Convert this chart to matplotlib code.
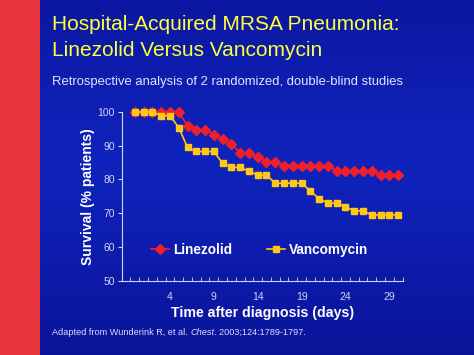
import matplotlib
matplotlib.use("Agg")
import matplotlib.pyplot as plt
import numpy as np
from matplotlib.patches import Rectangle

plt.rcParams["font.family"] = ["Liberation Sans", "DejaVu Sans"]

# survival (%) by day after diagnosis
days = list(range(0, 31))
linezolid = [100, 100, 100, 100, 100, 100, 95.9, 94.7, 94.7, 93.3,
             92.1, 90.6, 87.9, 87.9, 86.6, 85.3, 85.3, 84.1, 84.1, 84.1,
             84.1, 84.1, 84.1, 82.6, 82.6, 82.6, 82.6, 82.6, 81.3, 81.3, 81.3]
vancomycin = [100, 100, 100, 98.9, 98.9, 95.4, 89.5, 88.3, 88.3, 88.3,
              84.8, 83.6, 83.6, 82.4, 81.3, 81.3, 78.9, 78.9, 78.9, 78.9,
              76.6, 74.3, 73.0, 73.0, 71.9, 70.7, 70.7, 69.5, 69.5, 69.5, 69.5]
x_labels = [4, 9, 14, 19, 24, 29]
y_ticks = [50, 60, 70, 80, 90, 100]
title_lines = ["Hospital-Acquired MRSA Pneumonia:", "Linezolid Versus Vancomycin"]

RED = "#f0202a"
YELLOW = "#ffc814"
TICK_COL = "#d4d4f4"
W, H = 474, 355

fig = plt.figure(figsize=(W / 100, H / 100), dpi=100)
fig.patch.set_facecolor("#0c1c9e")

# background: blue gradient plus red strip on the left
bg = fig.add_axes([0, 0, 1, 1], zorder=-10)
bg.axis("off")
grad = np.linspace(0, 1, 200)
prof = 1 - np.abs(grad - 0.45) * 1.1
img = np.zeros((200, 1, 3))
img[:, 0, 0] = 0.03 + 0.03 * prof
img[:, 0, 1] = 0.04 + 0.10 * prof
img[:, 0, 2] = 0.52 + 0.22 * prof
bg.imshow(img, aspect="auto", extent=[0, 1, 0, 1])
bg.add_patch(Rectangle((0, 0), 40 / W, 1, color="#e8343c", lw=0))
bg.set_xlim(0, 1)
bg.set_ylim(0, 1)

for i, line in enumerate(title_lines):
    fig.text(52 / W, 1 - (30.5 + 26 * i) / H, line, color="#ffff3c", fontsize=15,
             ha="left", va="baseline")
fig.text(52 / W, 1 - 85 / H, "Retrospective analysis of 2 randomized, double-blind studies",
         color="#e4e4ff", fontsize=9.4, ha="left", va="baseline")

ax = fig.add_axes([121.7 / W, 1 - 280.7 / H, (402.5 - 121.7) / W, (280.7 - 112) / H])
ax.patch.set_alpha(0)
# vancomycin sits on top where the two curves overlap (first days)
ax.plot(days, linezolid, color=RED, marker="D", markersize=5.6, lw=1.2,
        label="Linezolid", clip_on=False, zorder=2)
ax.plot(days, vancomycin, color=YELLOW, marker="s", markersize=4.8, lw=1.2,
        label="Vancomycin", clip_on=False, zorder=3)

ax.set_xlim(-1.5, 30.5)
ax.set_ylim(50, 100)
ax.set_yticks(y_ticks)
ax.set_xticks(x_labels)
ax.set_xticks(np.arange(-1.5, 31, 1), minor=True)
ax.tick_params(axis="x", which="major", length=0, colors=TICK_COL, labelsize=7.5, pad=8)
ax.tick_params(axis="x", which="minor", length=3, direction="in", color=TICK_COL)
ax.tick_params(axis="y", length=3, color=TICK_COL, colors=TICK_COL, labelsize=7.5, pad=2)
for side in ("top", "right"):
    ax.spines[side].set_visible(False)
for side in ("left", "bottom"):
    ax.spines[side].set_color(TICK_COL)
    ax.spines[side].set_linewidth(0.8)

ax.set_ylabel("Survival (% patients)", color="white", fontsize=10, fontweight="bold", labelpad=2)
ax.set_xlabel("Time after diagnosis (days)", color="white", fontsize=10.2, fontweight="bold", labelpad=3)

leg = ax.legend(loc="center left", bbox_to_anchor=(151 / W, 1 - 250 / H),
                bbox_transform=fig.transFigure, ncol=2, frameon=False,
                handlelength=1.3, handletextpad=0.3, columnspacing=2.6,
                borderpad=0, borderaxespad=0, prop={"weight": "bold", "size": 9.8})
for t in leg.get_texts():
    t.set_color("white")

# footnote: journal name in italics, so build it from three pieces
fig.canvas.draw()
r = fig.canvas.get_renderer()
x = 52
for txt, style in [("Adapted from Wunderink R, et al. ", "normal"),
                   ("Chest", "italic"),
                   (". 2003;124:1789-1797.", "normal")]:
    t = fig.text(x / W, 1 - 335 / H, txt, color="#dcdcf8", fontsize=6.6,
                 style=style, ha="left", va="baseline")
    x = t.get_window_extent(r).x1

fig.savefig("out.png", dpi=100, facecolor=fig.get_facecolor())
